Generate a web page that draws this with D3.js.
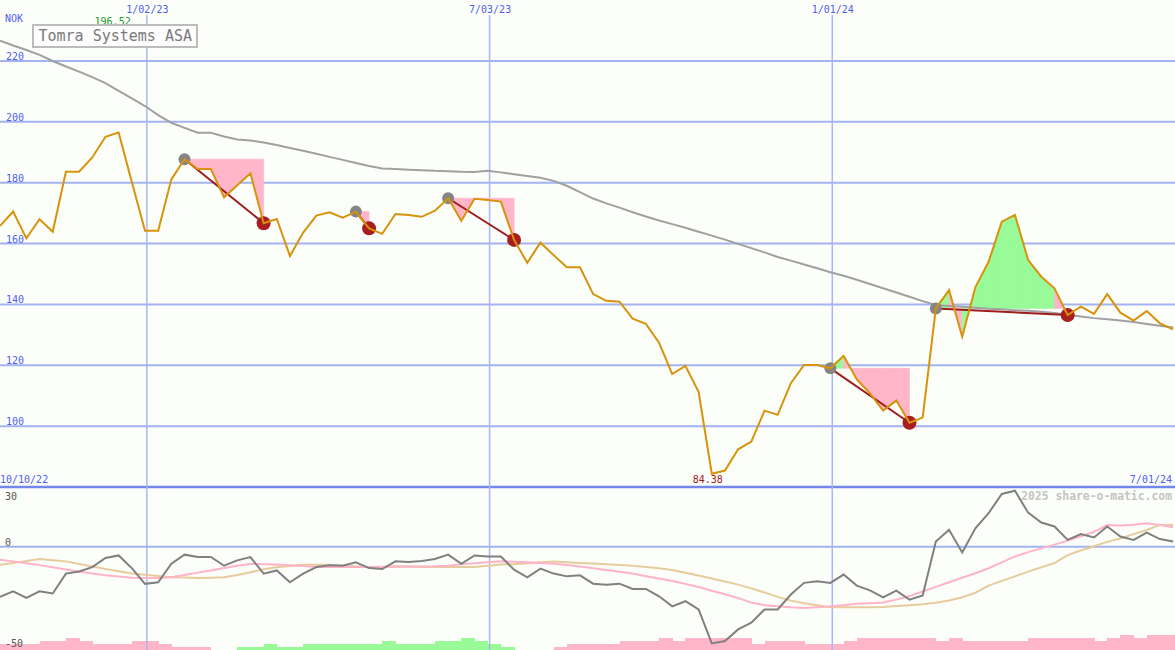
<!DOCTYPE html>
<html><head><meta charset="utf-8">
<script src="https://cdn.jsdelivr.net/npm/d3@7"></script>
<style>html,body{margin:0;padding:0;background:#fcfefa;overflow:hidden}svg{display:block}</style>
</head><body>
<svg id="chart" width="1175" height="650"></svg>
<script>
// ---------- data ----------
const startDate = "2022-10-16";          // first weekly close shown
const endDate = "2024-07-01";            // right edge of the chart
const firstDateLabel = "10/10/22";
const lastDateLabel = "7/01/24";
const title = "Tomra Systems ASA";
const currency = "NOK";
const copyright = "2025 share-o-matic.com";

const prices = [165.8,170.5,161.7,168.0,163.9,183.6,183.6,188.3,195.1,196.52,
  180.2,164.2,164.2,181.1,187.7,184.5,184.5,175.2,179.2,183.1,
  166.7,168.1,155.9,163.6,169.2,170.3,168.5,170.5,165.0,163.2,
  169.7,169.4,168.8,170.8,174.9,167.5,174.7,174.3,173.8,161.2,
  153.7,160.3,156.2,152.2,152.2,143.4,141.2,140.9,135.3,133.6,
  127.4,117.1,119.8,111.3,84.38,85.4,92.4,94.9,105.1,103.7,
  114.1,120.1,120.1,119.0,123.1,115.4,110.8,105.1,108.4,101.1,
  102.8,138.7,144.7,129.4,145.7,154.0,167.2,169.4,154.6,149.1,
  145.3,136.5,139.3,136.9,143.4,137.3,134.7,137.8,133.8,131.8];

const movingAvg = [226.7,225.1,223.6,222.0,220.0,218.2,216.5,214.7,212.7,210.2,
  207.7,205.2,202.2,199.7,198.0,196.4,196.4,195.2,194.2,193.9,
  193.2,192.4,191.4,190.5,189.5,188.5,187.5,186.5,185.5,184.7,
  184.5,184.3,184.1,183.9,183.8,183.6,183.5,183.9,183.4,182.8,
  182.2,181.6,180.6,179.0,176.9,174.8,173.2,171.8,170.3,168.9,
  167.6,166.4,165.2,163.9,162.6,161.3,159.9,158.5,157.1,155.6,
  154.4,153.1,151.9,150.6,149.4,148.1,146.7,145.3,143.9,142.5,
  141.1,139.8,139.5,139.2,138.9,138.6,138.4,138.1,137.9,137.6,
  137.2,136.6,136.0,135.5,135.1,134.7,134.2,133.6,133.0,132.4];

// drawdown episodes: [peak week index, trough week index]
const drawdowns = [[14,20],[27,28],[34,39],[63,69],[71,81]];
const minIndex = 54, maxIndex = 9;

const priceTicks = [220,200,180,160,140,120,100];
const priceFloor = 80;
const dateTicks = ["2023-01-02","2023-07-03","2024-01-01"];
const dateTickLabels = ["1/02/23","7/03/23","1/01/24"];

// lower panel
const momentum = [-25.4,-22.6,-25.9,-22.6,-23.7,-13.6,-12.5,-10.3,-5.7,-4.4,
  -10.8,-18.8,-18.0,-8.6,-4.0,-5.2,-5.2,-9.6,-6.9,-5.2,
  -13.6,-12.0,-18.0,-13.6,-10.3,-9.4,-9.6,-7.9,-10.8,-11.3,
  -7.4,-7.7,-7.2,-6.2,-4.0,-8.6,-4.4,-4.9,-4.9,-11.6,
  -15.5,-11.1,-13.6,-15.0,-14.5,-18.7,-19.2,-18.7,-21.4,-21.4,
  -25.1,-30.2,-27.6,-31.8,-49.0,-47.8,-41.9,-38.5,-31.8,-31.8,
  -24.2,-18.3,-17.5,-18.3,-14.1,-19.7,-22.1,-25.6,-22.2,-26.8,
  -24.7,2.7,8.6,-2.9,9.4,17.0,26.8,28.4,17.3,12.3,
  10.3,3.5,6.4,4.7,10.3,5.2,3.5,7.2,3.9,2.7];

const signalFast = [-6.6,-7.4,-8.3,-9.3,-10.4,-11.5,-12.5,-13.5,-14.4,-15.1,
  -15.7,-15.8,-15.8,-15.4,-14.3,-13.1,-12.0,-10.8,-9.6,-8.7,
  -8.9,-9.0,-9.4,-9.8,-10.3,-10.3,-10.3,-10.3,-10.3,-10.2,
  -10.1,-10.0,-10.0,-9.9,-9.6,-8.9,-8.3,-7.8,-7.4,-7.6,
  -7.8,-8.2,-8.6,-9.2,-10.0,-10.9,-11.8,-12.7,-13.6,-14.9,
  -16.1,-17.4,-18.8,-20.4,-22.3,-24.1,-26.0,-28.3,-29.6,-30.2,
  -30.7,-31.0,-30.6,-30.2,-29.6,-28.9,-28.6,-28.3,-26.8,-25.0,
  -22.7,-20.3,-18.0,-15.7,-13.4,-10.9,-7.9,-4.9,-2.7,-0.8,
  1.1,3.1,5.3,7.6,11.0,10.8,11.2,11.9,11.0,9.9];

const signalSlow = [-9.1,-8.2,-7.2,-6.2,-6.8,-7.4,-8.7,-10.0,-11.3,-12.4,
  -13.5,-14.2,-14.8,-15.4,-15.6,-15.8,-15.7,-15.5,-14.3,-12.9,
  -11.4,-10.4,-9.7,-9.1,-9.1,-9.1,-9.5,-9.9,-10.3,-10.1,
  -9.9,-10.0,-10.2,-10.3,-10.3,-10.3,-10.3,-9.6,-9.0,-8.8,
  -8.3,-7.8,-7.5,-7.9,-8.2,-8.5,-8.8,-9.2,-9.6,-10.3,
  -10.9,-11.8,-13.2,-14.6,-16.1,-17.6,-19.2,-21.1,-23.2,-25.4,
  -27.3,-28.6,-29.6,-30.7,-30.7,-30.7,-30.7,-30.5,-30.0,-29.6,
  -29.1,-28.4,-27.2,-25.6,-23.3,-19.7,-17.3,-15.0,-12.6,-10.4,
  -8.3,-4.2,-1.9,0.3,2.5,4.2,6.4,8.5,11.1,11.1];

// weekly strength bars (negative = pink, positive = green)
const barLevels = [-2,-2,-2,-3,-3,-4,-3,-2,-2,-2,
  -3,-3,-2,-1,-1,-1,0,0,1,1,
  2,1,1,2,2,2,2,2,2,3,
  2,2,2,3,3,4,3,2,1,0,
  0,0,-1,-2,-2,-2,-2,-3,-3,-3,
  -4,-3,-4,-4,-4,-4,-4,-2,-3,-3,
  -3,-2,-2,-2,-3,-4,-4,-4,-4,-4,
  -4,-3,-4,-3,-3,-3,-3,-3,-4,-4,
  -4,-4,-4,-3,-4,-5,-4,-5,-5,-5];

const indTicks = [30,0,-50];

// ---------- drawing ----------
const W = 1175, H = 650;
const svg = d3.select("#chart");
const parse = d3.utcParse("%Y-%m-%d");
const t0 = parse(startDate);
const dates = prices.map((_, i) => d3.utcDay.offset(t0, 7 * i));

const x = d3.scaleUtc().domain([t0, parse(endDate)]).range([0, W]);
const y = d3.scaleLinear().domain([priceFloor, 220]).range([487, 61]);
const yi = d3.scaleLinear().domain([-50, 30]).range([645.4, 487.6]);
const yb = d3.scaleLinear().domain([0, 5]).range([650, 635]);

const FONT = "DejaVu Sans Mono, monospace";
const BLUE = "#5060ee";
const GRID = "#a3b2f0";
const PINK = "#ffb6c9", GREEN = "#98fb98";

svg.append("rect").attr("width", W).attr("height", H).attr("fill", "#fcfefa");

// bottom strength bars
const step = x(dates[1]) - x(dates[0]);
svg.append("g").attr("shape-rendering", "crispEdges")
  .selectAll("rect").data(barLevels.map((v, i) => ({v, i})).filter(d => d.v !== 0))
  .join("rect")
  .attr("x", d => x(dates[d.i]))
  .attr("width", step + 0.6)
  .attr("y", d => yb(Math.abs(d.v)))
  .attr("height", d => yb(0) - yb(Math.abs(d.v)))
  .attr("fill", d => d.v < 0 ? PINK : GREEN);

// horizontal gridlines (main)
svg.append("g").selectAll("line").data(priceTicks).join("line")
  .attr("x1", 0).attr("x2", W).attr("y1", d => y(d)).attr("y2", d => y(d))
  .attr("stroke", GRID).attr("stroke-width", 2);
// panel separator
svg.append("line").attr("x1", 0).attr("x2", W).attr("y1", y(priceFloor)).attr("y2", y(priceFloor))
  .attr("stroke", "#7387ea").attr("stroke-width", 2.5);
// lower panel zero line
svg.append("line").attr("x1", 0).attr("x2", W).attr("y1", yi(0)).attr("y2", yi(0))
  .attr("stroke", GRID).attr("stroke-width", 2);

// vertical date gridlines
const dTicks = dateTicks.map(parse);
svg.append("g").selectAll("line").data(dTicks).join("line")
  .attr("x1", d => x(d)).attr("x2", d => x(d)).attr("y1", 15).attr("y2", H)
  .attr("stroke", "#a8b6f4").attr("stroke-width", 1.5);

// top date axis
const xAxis = d3.axisTop(x).tickValues(dTicks).tickSize(0).tickPadding(0)
  .tickFormat((d, i) => dateTickLabels[i]);
const gx = svg.append("g").attr("transform", "translate(0,13)").call(xAxis);
gx.select(".domain").remove();
gx.selectAll("text").attr("fill", BLUE).attr("font-family", FONT).attr("font-size", 10).attr("dy", 0);

// price axis labels
const yAxis = d3.axisRight(y).tickValues(priceTicks).tickSize(0).tickPadding(2);
const gy = svg.append("g").attr("transform", "translate(4,0)").call(yAxis);
gy.select(".domain").remove();
gy.selectAll("text").attr("fill", BLUE).attr("font-family", FONT).attr("font-size", 10).attr("dy", -1.5);

svg.append("text").attr("x", 5).attr("y", 22).text(currency)
  .attr("fill", BLUE).attr("font-family", FONT).attr("font-size", 10);

// drawdown fills, per weekly segment
const fillG = svg.append("g");
drawdowns.forEach(([a, b]) => {
  const base = prices[a];
  for (let i = a; i < b; i++) {
    const pts = [[x(dates[i]), y(base)], [x(dates[i]), y(prices[i])],
                 [x(dates[i + 1]), y(prices[i + 1])], [x(dates[i + 1]), y(base)]];
    const c = prices[i + 1] >= base ? GREEN : PINK;
    fillG.append("path").attr("d", "M" + pts.join("L") + "Z")
      .attr("fill", c).attr("stroke", c).attr("stroke-width", 0.6);
  }
});

// moving average
svg.append("path").datum(movingAvg)
  .attr("d", d3.line().x((d, i) => x(dates[i])).y(d => y(d)))
  .attr("fill", "none").attr("stroke", "#a0a0a0").attr("stroke-width", 2);

// drawdown connecting lines + markers
drawdowns.forEach(([a, b]) => {
  svg.append("line")
    .attr("x1", x(dates[a])).attr("y1", y(prices[a]))
    .attr("x2", x(dates[b])).attr("y2", y(prices[b]))
    .attr("stroke", "#a01c1c").attr("stroke-width", 2);
});
drawdowns.forEach(([a, b]) => {
  svg.append("circle").attr("cx", x(dates[a])).attr("cy", y(prices[a])).attr("r", 6).attr("fill", "#858585");
  svg.append("circle").attr("cx", x(dates[b])).attr("cy", y(prices[b])).attr("r", 7).attr("fill", "#a81e1e");
});

// price line
svg.append("path").datum(prices)
  .attr("d", d3.line().x((d, i) => x(dates[i])).y(d => y(d)))
  .attr("fill", "none").attr("stroke", "#d8920c").attr("stroke-width", 2);

// min / max labels
svg.append("text").attr("x", x(dates[minIndex]) - 4).attr("y", 483).attr("text-anchor", "middle")
  .text(prices[minIndex].toFixed(2)).attr("fill", "#a01818").attr("font-family", FONT).attr("font-size", 10);
svg.append("text").attr("x", x(dates[maxIndex]) - 6).attr("y", 25).attr("text-anchor", "middle")
  .text(prices[maxIndex].toFixed(2)).attr("fill", "#1f9a1f").attr("font-family", FONT).attr("font-size", 10);

// date range labels
svg.append("text").attr("x", 0).attr("y", 483).text(firstDateLabel)
  .attr("fill", BLUE).attr("font-family", FONT).attr("font-size", 10);
svg.append("text").attr("x", 1172).attr("y", 483).attr("text-anchor", "end").text(lastDateLabel)
  .attr("fill", BLUE).attr("font-family", FONT).attr("font-size", 10);

// lower panel lines
const lineI = d3.line().x((d, i) => x(dates[i])).y(d => yi(d));
svg.append("path").datum(signalSlow).attr("d", lineI).attr("fill", "none").attr("stroke", "#e6cc9c").attr("stroke-width", 2);
svg.append("path").datum(signalFast).attr("d", lineI).attr("fill", "none").attr("stroke", "#ffb3c8").attr("stroke-width", 2);
svg.append("path").datum(momentum).attr("d", lineI).attr("fill", "none").attr("stroke", "#808080").attr("stroke-width", 2);

// lower panel labels
const indOffsets = {"30": 12.5, "0": -1, "-50": 1.5};
svg.append("g").selectAll("text").data(indTicks).join("text")
  .attr("x", 5).attr("y", d => yi(d) + indOffsets[String(d)])
  .text(d => d).attr("fill", "#555").attr("font-family", FONT).attr("font-size", 10);

// copyright
svg.append("text").attr("x", 1172).attr("y", 500).attr("text-anchor", "end").text(copyright)
  .attr("fill", "#c4c4c4").attr("font-family", FONT).attr("font-weight", "bold").attr("font-size", 11.4);

// title box
svg.append("rect").attr("x", 33).attr("y", 25).attr("width", 164).attr("height", 22)
  .attr("fill", "#fdfdfd").attr("stroke", "#bcbcbc").attr("stroke-width", 2);
svg.append("text").attr("x", 38.5).attr("y", 41).text(title)
  .attr("fill", "#7a7a7a").attr("font-family", FONT).attr("font-size", 15);
</script>
</body></html>
